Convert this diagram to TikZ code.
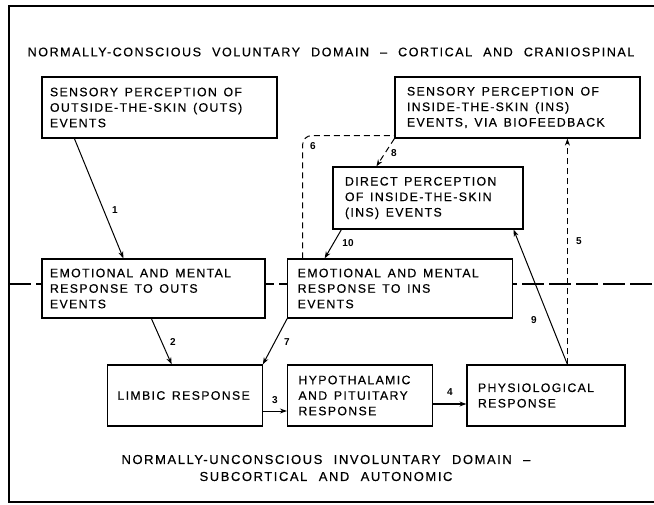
\documentclass[tikz,border=0pt]{standalone}
\usepackage{fontspec}
\setmainfont{Liberation Sans}[LetterSpace=11,WordSpace=1.4,FakeBold=0.4]
\newfontfamily\domainfont{Liberation Sans}[LetterSpace=12,WordSpace=2.2,FakeBold=0.4]
\newfontfamily\numfont{Liberation Sans}
\usetikzlibrary{arrows.meta,calc}

\begin{document}
\begin{tikzpicture}[>={Stealth[length=7pt,width=5pt]}, x=1pt, y=-1pt,
    box/.style={draw, line width=1.2pt, fill=white, inner sep=0pt, align=flush left,
      font=\fontsize{12.3}{15.5}\selectfont,
      execute at begin node={\hyphenpenalty=10000 \exhyphenpenalty=10000 }},
    num/.style={font=\numfont\bfseries\fontsize{10}{10}\selectfont, inner sep=0pt},
    flow/.style={->, line width=1pt},
    feedback/.style={line width=1pt, dash pattern=on 6pt off 4pt}]
  \useasboundingbox (0,0) rectangle (654,505);
  % frame, and the border between the two domains
  \draw[line width=1.5pt] (654,6) -- (9,6) -- (9,502) -- (654,502);
  \draw[line width=1.5pt, dash pattern=on 22pt off 5pt] (9,284) -- (654,284);
  \node[font=\domainfont\fontsize{12.6}{14}\selectfont] (upper) at (331,52)
    {NORMALLY-CONSCIOUS VOLUNTARY DOMAIN \textendash\ CORTICAL AND CRANIOSPINAL};
  \node[font=\domainfont\fontsize{13}{17}\selectfont, align=center] (lower) at (326,468)
    {NORMALLY-UNCONSCIOUS INVOLUNTARY DOMAIN \textendash\\SUBCORTICAL AND AUTONOMIC};

  % boxes
  \node[box, minimum width=235pt, minimum height=61pt, text width=219pt] (outsSense) at (159.5,107.5)
    {SENSORY PERCEPTION OF\\OUTSIDE-THE-SKIN (OUTS)\\EVENTS};
  \node[box, minimum width=245pt, minimum height=61pt, text width=221pt] (insSense) at (517.5,107.5)
    {SENSORY PERCEPTION OF\\INSIDE-THE-SKIN (INS)\\EVENTS, VIA BIOFEEDBACK};
  \node[box, minimum width=190pt, minimum height=62pt, text width=166pt] (direct) at (428,198)
    {DIRECT PERCEPTION\\OF INSIDE-THE-SKIN\\(INS) EVENTS};
  \node[box, minimum width=223pt, minimum height=59pt, text width=207pt] (emoOuts) at (153.5,288.5)
    {EMOTIONAL AND MENTAL\\RESPONSE TO OUTS\\EVENTS};
  \node[box, minimum width=224.5pt, minimum height=59pt, text width=204.5pt] (emoIns) at (400,288.5)
    {EMOTIONAL AND MENTAL\\RESPONSE TO INS\\EVENTS};
  \node[box, minimum width=154.5pt, minimum height=61pt, text width=135pt] (limbic) at (185,395.5)
    {LIMBIC RESPONSE};
  \node[box, minimum width=145pt, minimum height=61pt, text width=123pt] (hypo) at (360,395.5)
    {HYPOTHALAMIC\\AND PITUITARY\\RESPONSE};
  \node[box, minimum width=158pt, minimum height=61pt, text width=136pt] (physio) at (546,395.5)
    {PHYSIOLOGICAL\\RESPONSE\\[3pt]};

  % pathways
  \coordinate (top9) at ($(physio.north west)+(101,0)$);
  \draw[flow] ($(outsSense.south west)+(33,0)$) -- ($(emoOuts.north west)+(82,0)$);
  \draw[flow] ($(emoOuts.south west)+(110,0)$) -- ($(limbic.north west)+(64.5,0)$);
  \draw[flow] ($(limbic.east)+(0,15.5)$) -- ($(hypo.west)+(0,15.5)$);
  \draw[flow, line width=1.6pt] ($(hypo.east)+(0,8.5)$) -- ($(physio.west)+(0,8.5)$);
  \draw[feedback, ->] (top9) -- (top9 |- insSense.south);
  \draw[feedback, rounded corners=9pt] ($(emoIns.north west)+(15.5,0)$) |- ($(insSense.south west)+(0,-3)$);
  \draw[flow] (emoIns.south west) -- (limbic.north east);
  \draw[feedback, ->] (insSense.south west) -- ($(direct.north west)+(44,0)$);
  \draw[flow] (top9) -- ($(direct.south east)+(-10,0)$);
  \draw[flow] ($(direct.south west)+(9,0)$) -- ($(emoIns.north west)+(37.5,0)$);

  % pathway numbers
  \node[num] (n1) at (115,210) {1};
  \node[num] (n2) at (173,342) {2};
  \node[num] (n3) at (275,400) {3};
  \node[num] (n4) at (450,392) {4};
  \node[num] (n5) at (579,241) {5};
  \node[num] (n6) at (313,146) {6};
  \node[num] (n7) at (287,342) {7};
  \node[num] (n8) at (394,153) {8};
  \node[num] (n9) at (534,320) {9};
  \node[num] (n10) at (348,243) {10};
\end{tikzpicture}
\end{document}
